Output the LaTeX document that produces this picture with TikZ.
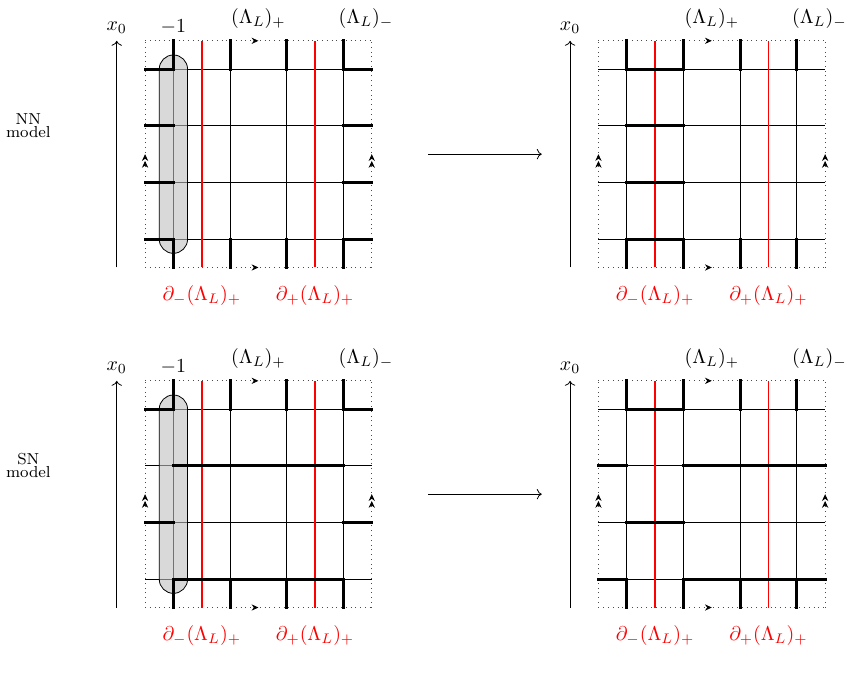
\documentclass[tikz,border=0pt]{standalone}
\usetikzlibrary{arrows.meta,decorations.markings}

\tikzset{
  gridline/.style={thin},
  link/.style={line width=1.5pt, line cap=rect},
  bdry/.style={red, line width=0.8pt},
  frame/.style={dotted, black!70},
  onetip/.style={postaction=decorate, decoration={markings,
    mark=at position 0.5 with {\arrow[black]{Stealth[length=1.2mm,width=1.1mm]}}}},
  twotip/.style={postaction=decorate, decoration={markings,
    mark=at position 0.47 with {\arrow[black]{Stealth[length=1.2mm,width=1.1mm]}},
    mark=at position 0.5 with {\arrow[black]{Stealth[length=1.2mm,width=1.1mm]}}}},
  blob/.style={draw=black, thin, fill=gray!50, fill opacity=0.6, rounded corners=0.25cm},
}

\begin{document}
\begin{tikzpicture}

\useasboundingbox (-2.56,-7.19) rectangle (12.545,4.72);

% Common parts of the four panels
\foreach \px/\py/\p in {0/0/nnl, 8/0/nnr, 0/-6/snl, 8/-6/snr} {
  \begin{scope}[shift={(\px,\py)}]
    % thin lattice
    \foreach \s in {0.5,1.5,2.5,3.5} {
      \draw[gridline] (\s,0) -- (\s,4);
      \draw[gridline] (0,\s) -- (4,\s);
    }
    % boundaries of (Lambda_L)_+
    \draw[bdry] (1,0) -- (1,4);
    \draw[bdry] (3,0) -- (3,4);
    % periodic frame
    \draw[frame, onetip] (0,4) -- (4,4);
    \draw[frame, onetip] (0,0) -- (4,0);
    \draw[frame, twotip] (0,0) -- (0,4);
    \draw[frame, twotip] (4,0) -- (4,4);
    % time axis
    \coordinate (tbot\p) at (-0.5,0);
    \coordinate (ttop\p) at (-0.5,4);
    \draw[->] (tbot\p) -- (ttop\p) node[above] (xlab\p) {$x_0$};
    % labels
    \node (lamp\p) at (2,4.4) {$(\Lambda_L)_+$};
    \node (lamm\p) at (3.9,4.4) {$(\Lambda_L)_-$};
    \node[red] (dm\p) at (1,-0.5) {$\partial_-(\Lambda_L)_+$};
    \node[red] (dp\p) at (3,-0.5) {$\partial_+(\Lambda_L)_+$};
  \end{scope}
}

% Column at -1 (left panels)
\foreach \py/\p in {0/nnl, -6/snl} {
  \begin{scope}[shift={(0,\py)}]
    \draw[blob] (0.25,0.25) rectangle (0.75,3.75);
    \node[above] (mone\p) at (0.5,4) {$-1$};
  \end{scope}
}

% Vertical links through the frame
\foreach \px/\py in {0/0, 8/0, 0/-6, 8/-6} {
  \begin{scope}[shift={(\px,\py)}]
    \foreach \x in {0.5,1.5,2.5,3.5}
      \draw[link] (\x,0) -- (\x,0.5) (\x,3.5) -- (\x,4);
  \end{scope}
}

% NN model, before
\foreach \y in {0.5,1.5,2.5,3.5}
  \draw[link] (0,\y) -- (0.5,\y) (3.5,\y) -- (4,\y);

% NN model, after
\foreach \y in {0.5,1.5,2.5,3.5}
  \draw[link] (8.5,\y) -- (9.5,\y);

% SN model, before
\foreach \y in {-4.5,-2.5}
  \draw[link] (0,\y) -- (0.5,\y) (3.5,\y) -- (4,\y);
\foreach \y in {-3.5,-5.5}
  \draw[link] (0.5,\y) -- (3.5,\y);

% SN model, after
\foreach \y in {-4.5,-2.5}
  \draw[link] (8.5,\y) -- (9.5,\y);
\foreach \y in {-3.5,-5.5}
  \draw[link] (8,\y) -- (8.5,\y) (9.5,\y) -- (12,\y);

% Model names
\node[align=center, font=\footnotesize] (nnname) at (-2.06,2.5) {NN\\[-3pt]model};
\node[align=center, font=\footnotesize] (snname) at (-2.06,-3.5) {SN\\[-3pt]model};

% Maps
\coordinate (nnfrom) at (5,2);
\coordinate (nnto) at (7,2);
\draw[->] (nnfrom) -- (nnto);
\coordinate (snfrom) at (5,-4);
\coordinate (snto) at (7,-4);
\draw[->] (snfrom) -- (snto);

\end{tikzpicture}
\end{document}
